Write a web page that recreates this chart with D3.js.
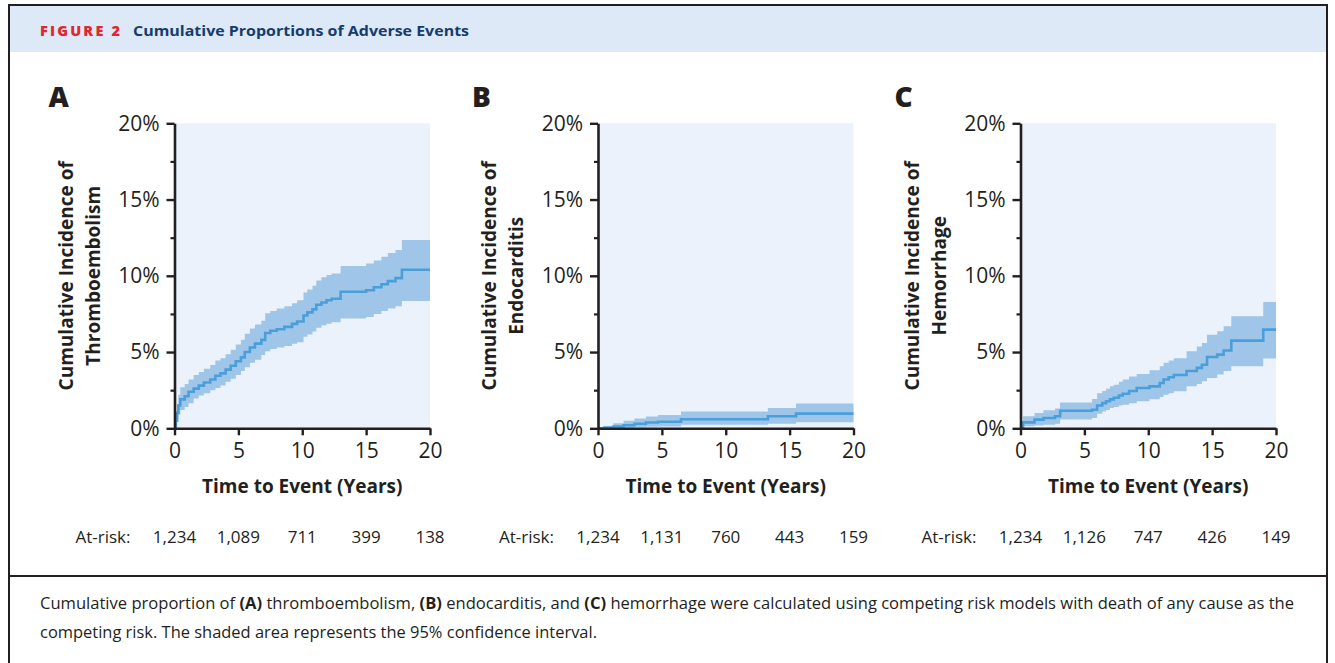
<!DOCTYPE html>
<html>
<head>
<meta charset="utf-8">
<script src="https://cdn.jsdelivr.net/npm/d3@7"></script>
<style>
  html, body { margin: 0; padding: 0; background: #ffffff; }
  svg { display: block; }
</style>
</head>
<body>
<svg id="fig" width="1335" height="663"></svg>
<script>
// ---- Panel A: thromboembolism (cumulative incidence, %, with 95% CI) ----
const timeA  = [0, 0.1, 0.2, 0.3, 0.45, 0.8, 1.1, 1.5, 1.9, 2.3, 2.8, 3.2, 3.6, 4.0, 4.4, 4.8, 5.2, 5.5, 5.9, 6.3, 6.8, 7.1, 7.5, 8.0, 8.6, 9.2, 9.6, 10.1, 10.4, 10.8, 11.1, 11.5, 11.9, 12.3, 13.0, 15.0, 15.6, 16.2, 16.7, 17.3, 17.8, 20];
const estA   = [0, 0.5, 1.0, 1.5, 1.9, 2.1, 2.4, 2.6, 2.8, 3.0, 3.2, 3.45, 3.6, 3.85, 4.1, 4.4, 4.65, 5.0, 5.3, 5.55, 5.8, 6.25, 6.4, 6.5, 6.65, 6.85, 7.0, 7.4, 7.6, 7.8, 8.1, 8.25, 8.4, 8.5, 8.95, 9.05, 9.25, 9.45, 9.65, 9.85, 10.4, 10.4];
const lowA   = [0, 0.2, 0.5, 0.9, 1.2, 1.4, 1.65, 1.95, 2.15, 2.3, 2.5, 2.65, 2.8, 3.05, 3.25, 3.5, 3.75, 4.0, 4.3, 4.5, 4.8, 5.05, 5.2, 5.3, 5.4, 5.55, 5.65, 6.0, 6.15, 6.35, 6.6, 6.75, 6.85, 6.95, 7.2, 7.3, 7.5, 7.7, 7.85, 8.0, 8.35, 8.35];
const highA  = [0, 0.9, 1.6, 2.2, 2.7, 2.9, 3.2, 3.5, 3.7, 3.9, 4.15, 4.45, 4.6, 4.85, 5.15, 5.5, 5.8, 6.2, 6.55, 6.8, 7.05, 7.55, 7.7, 7.85, 8.0, 8.2, 8.4, 8.9, 9.1, 9.35, 9.7, 9.9, 10.05, 10.15, 10.65, 10.8, 11.0, 11.25, 11.5, 11.7, 12.35, 12.35];
const atRiskA = ["1,234", "1,089", "711", "399", "138"];

// ---- Panel B: endocarditis ----
const timeB  = [0, 0.5, 1.2, 2.0, 2.85, 3.75, 4.7, 6.5, 13.3, 15.5, 20];
const estB   = [0, 0.05, 0.12, 0.2, 0.3, 0.38, 0.43, 0.59, 0.79, 0.96, 0.96];
const lowB   = [0, 0, 0, 0.03, 0.07, 0.1, 0.12, 0.24, 0.3, 0.4, 0.4];
const highB  = [0, 0.13, 0.33, 0.5, 0.65, 0.78, 0.87, 1.1, 1.33, 1.62, 1.62];
const atRiskB = ["1,234", "1,131", "760", "443", "159"];

// ---- Panel C: hemorrhage ----
const timeC  = [0, 0.2, 1.1, 1.8, 2.7, 3.1, 5.6, 6.0, 6.4, 6.7, 7.0, 7.3, 7.7, 8.0, 8.5, 9.1, 10.1, 10.9, 11.2, 11.6, 12.0, 13.0, 13.8, 14.2, 14.6, 15.4, 15.9, 16.5, 19.0, 20];
const estC   = [0, 0.39, 0.57, 0.68, 0.79, 1.15, 1.22, 1.5, 1.65, 1.77, 1.9, 2.0, 2.15, 2.27, 2.45, 2.64, 2.75, 2.97, 3.2, 3.35, 3.5, 3.76, 3.96, 4.17, 4.68, 4.83, 5.1, 5.75, 6.47, 6.47];
const lowC   = [0, 0.13, 0.18, 0.24, 0.3, 0.57, 0.68, 0.95, 1.1, 1.2, 1.33, 1.4, 1.5, 1.55, 1.65, 1.77, 1.9, 2.05, 2.2, 2.3, 2.43, 2.75, 2.9, 3.08, 3.3, 3.52, 3.75, 4.07, 4.57, 4.57];
const highC  = [0, 0.79, 1.0, 1.18, 1.3, 1.7, 1.92, 2.3, 2.45, 2.6, 2.75, 2.86, 3.05, 3.2, 3.4, 3.56, 3.8, 4.07, 4.3, 4.45, 4.6, 5.05, 5.37, 5.6, 6.14, 6.36, 6.7, 7.34, 8.28, 8.28];
const atRiskC = ["1,234", "1,126", "747", "426", "149"];

// ---- Axis ticks and labels ----
const xTicks = [0, 5, 10, 15, 20];
const yTicks = [0, 5, 10, 15, 20];
const yMinorTicks = [2.5, 7.5, 12.5, 17.5];

const panelLetters = ["A", "B", "C"];
const yTitles = [
  ["Cumulative Incidence of", "Thromboembolism"],
  ["Cumulative Incidence of", "Endocarditis"],
  ["Cumulative Incidence of", "Hemorrhage"]
];
const xTitle = "Time to Event (Years)";
const atRiskLabel = "At-risk:";

const figureTag = "FIGURE 2";
const figureTitle = "Cumulative Proportions of Adverse Events";

const panels = [
  { letter: panelLetters[0], titles: yTitles[0], time: timeA, est: estA, low: lowA, high: highA, atRisk: atRiskA },
  { letter: panelLetters[1], titles: yTitles[1], time: timeB, est: estB, low: lowB, high: highB, atRisk: atRiskB },
  { letter: panelLetters[2], titles: yTitles[2], time: timeC, est: estC, low: lowC, high: highC, atRisk: atRiskC }
];

// ---- Styling ----
const INK = "#231f20";
const PLOT_BG = "#ebf2fb";
const BAND = "#9fc5e9";
const LINE = "#4a9fdb";
const FONT = "'Open Sans', Lato, sans-serif";

const svg = d3.select("#fig");

// Frame and header band
svg.append("rect").attr("x", 9).attr("y", 5).attr("width", 1318).attr("height", 47).attr("fill", "#dde9f6");
svg.append("line").attr("x1", 8).attr("x2", 1328).attr("y1", 5).attr("y2", 5).attr("stroke", INK).attr("stroke-width", 2);
svg.append("line").attr("x1", 9).attr("x2", 9).attr("y1", 4).attr("y2", 663).attr("stroke", INK).attr("stroke-width", 2);
svg.append("line").attr("x1", 1327).attr("x2", 1327).attr("y1", 4).attr("y2", 663).attr("stroke", INK).attr("stroke-width", 2);
svg.append("line").attr("x1", 9).attr("x2", 1327).attr("y1", 576).attr("y2", 576).attr("stroke", INK).attr("stroke-width", 2);

svg.append("text").attr("x", 40).attr("y", 36)
  .attr("font-family", FONT).attr("font-weight", 800).attr("font-size", 14.5)
  .attr("fill", "#e3262e").attr("textLength", 80).attr("lengthAdjust", "spacing")
  .text(figureTag);
svg.append("text").attr("x", 133).attr("y", 36)
  .attr("font-family", FONT).attr("font-weight", 700).attr("font-size", 15)
  .attr("fill", "#163b6e").attr("textLength", 336).attr("lengthAdjust", "spacingAndGlyphs")
  .text(figureTitle);

// Panels
const panelX = [174.5, 598, 1020.5];
const plotW = 255.5;
const plotTop = 123.3;
const plotBottom = 428.3;

panels.forEach((p, i) => {
  const x0 = panelX[i];
  const x = d3.scaleLinear().domain([0, 20]).range([x0, x0 + plotW]);
  const y = d3.scaleLinear().domain([0, 20]).range([plotBottom, plotTop]);
  const g = svg.append("g");

  g.append("rect")
    .attr("x", x(0)).attr("y", y(20))
    .attr("width", x(20) - x(0)).attr("height", y(0) - y(20))
    .attr("fill", PLOT_BG);

  const rows = p.time.map((t, k) => ({ t, est: p.est[k], lo: p.low[k], hi: p.high[k] }));

  g.append("path")
    .datum(rows)
    .attr("fill", BAND)
    .attr("d", d3.area().curve(d3.curveStepAfter).x(d => x(d.t)).y0(d => y(d.lo)).y1(d => y(d.hi)));

  g.append("path")
    .datum(rows)
    .attr("fill", "none")
    .attr("stroke", LINE)
    .attr("stroke-width", 2.6)
    .attr("d", d3.line().curve(d3.curveStepAfter).x(d => x(d.t)).y(d => y(d.est)));

  // Y axis: minor ticks then major ticks with labels
  g.append("g")
    .attr("transform", `translate(${x0},0)`)
    .call(d3.axisLeft(y).tickValues(yMinorTicks).tickSize(4).tickFormat(""))
    .call(s => s.select(".domain").remove())
    .call(s => s.selectAll("line").attr("stroke", INK).attr("stroke-width", 2.2));

  const yAxis = g.append("g")
    .attr("transform", `translate(${x0},0)`)
    .call(d3.axisLeft(y).tickValues(yTicks).tickSize(8).tickSizeOuter(0).tickPadding(7).tickFormat(d => d + "%"));
  yAxis.select(".domain").attr("stroke", INK).attr("stroke-width", 2.6);
  yAxis.selectAll(".tick line").attr("stroke", INK).attr("stroke-width", 2.4);
  yAxis.selectAll(".tick text").attr("fill", INK).attr("font-family", FONT).attr("font-size", 21);

  const xAxis = g.append("g")
    .attr("transform", `translate(0,${plotBottom})`)
    .call(d3.axisBottom(x).tickValues(xTicks).tickSize(7).tickSizeOuter(0).tickPadding(8));
  xAxis.select(".domain").attr("stroke", INK).attr("stroke-width", 2.6);
  xAxis.selectAll(".tick line").attr("stroke", INK).attr("stroke-width", 2.4);
  xAxis.selectAll(".tick text").attr("fill", INK).attr("font-family", FONT).attr("font-size", 21);

  // Panel letter
  g.append("text")
    .attr("x", x0 - 126).attr("y", 107)
    .attr("font-family", FONT).attr("font-weight", 800).attr("font-size", 28)
    .attr("fill", INK).text(p.letter);

  // Y title (two lines, rotated)
  const yt = g.append("text")
    .attr("transform", `translate(${x0 - 102},${(plotTop + plotBottom) / 2}) rotate(-90)`)
    .attr("text-anchor", "middle")
    .attr("font-family", FONT).attr("font-weight", 700).attr("font-size", 19)
    .attr("fill", INK);
  yt.append("tspan").attr("x", 0).attr("dy", 0).text(p.titles[0]);
  yt.append("tspan").attr("x", 0).attr("dy", 27).text(p.titles[1]);

  // X title
  g.append("text")
    .attr("x", (x(0) + x(20)) / 2).attr("y", 493)
    .attr("text-anchor", "middle")
    .attr("font-family", FONT).attr("font-weight", 700).attr("font-size", 19)
    .attr("fill", INK).text(xTitle);

  // At-risk row
  g.append("text")
    .attr("x", x0 - 99).attr("y", 543)
    .attr("font-family", FONT).attr("font-size", 17).attr("fill", INK)
    .text(atRiskLabel);
  g.selectAll(".risk")
    .data(p.atRisk)
    .join("text")
    .attr("x", (d, k) => x(xTicks[k]))
    .attr("y", 543)
    .attr("text-anchor", "middle")
    .attr("font-family", FONT).attr("font-size", 17).attr("fill", INK)
    .text(d => d);
});

// Caption
const capLines = [
  { len: 1254, parts: [["Cumulative proportion of ", 400], ["(A)", 700], [" thromboembolism, ", 400], ["(B)", 700], [" endocarditis, and ", 400], ["(C)", 700], [" hemorrhage were calculated using competing risk models with death of any cause as the", 400]] },
  { len: 557, parts: [["competing risk. The shaded area represents the 95% confidence interval.", 400]] }
];
capLines.forEach((line, li) => {
  const t = svg.append("text")
    .attr("x", 40).attr("y", 609 + li * 29)
    .attr("font-family", FONT).attr("font-size", 15.5).attr("fill", INK)
    .attr("textLength", line.len).attr("lengthAdjust", "spacingAndGlyphs");
  line.parts.forEach(([s, w]) => t.append("tspan").attr("font-weight", w).text(s));
});
</script>
</body>
</html>
